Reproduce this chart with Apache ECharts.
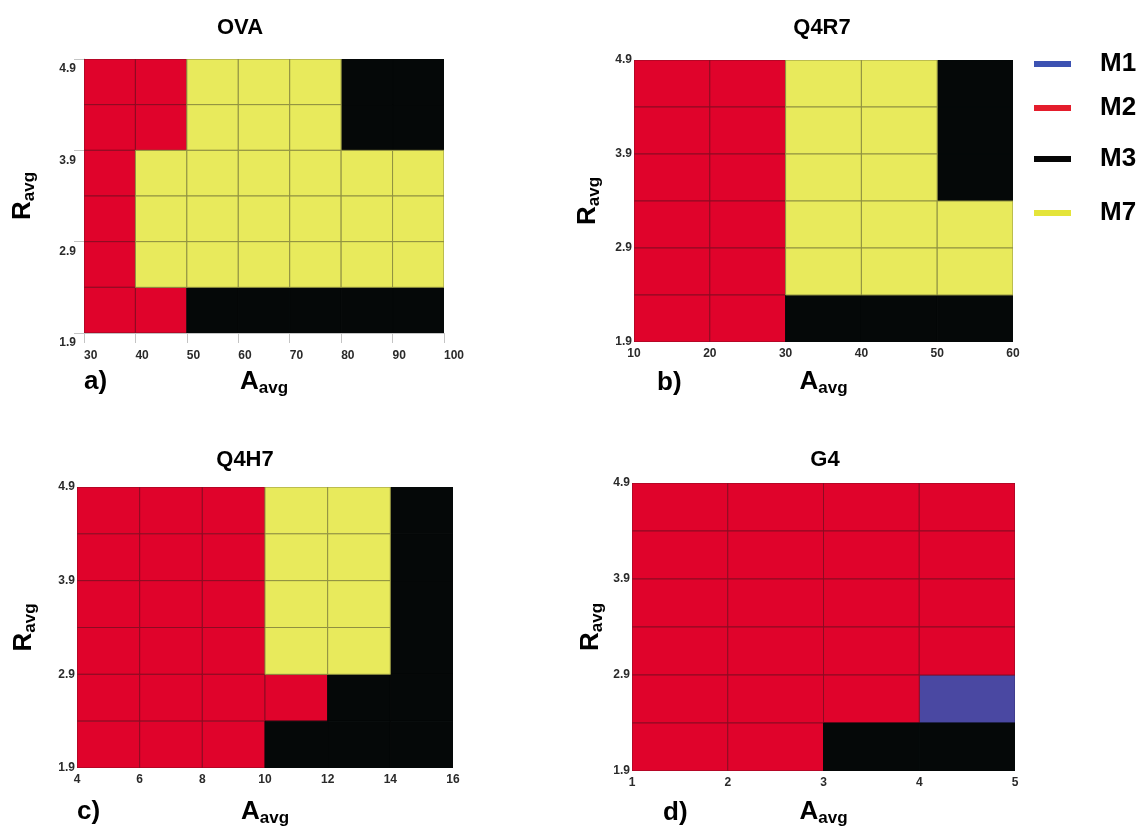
<!DOCTYPE html>
<html>
<head>
<meta charset="utf-8">
<script src="https://cdn.jsdelivr.net/npm/echarts@6/dist/echarts.min.js"></script>
<style>
  html, body { margin: 0; padding: 0; background: #fff; }
  #chart { width: 1143px; height: 838px; }
</style>
</head>
<body>
<div id="chart"></div>
<script>
// Winning model per (A_avg, R_avg) cell for four schemes.
const modelNames = ['M1', 'M2', 'M3', 'M7'];

// Row edges of R_avg, shared by every panel (bottom to top)
const rEdges = [1.9, 2.4, 2.9, 3.4, 3.9, 4.4, 4.9];
const rTicks = [1.9, 2.9, 3.9, 4.9];

// Column edges of A_avg for each panel
const ovaEdges = [30, 40, 50, 60, 70, 80, 90, 100];
const q4r7Edges = [10, 20, 30, 40, 50, 60];
const q4h7Edges = [4, 6, 8, 10, 12, 14, 16];
const g4Edges = [1, 2, 3, 4, 5];

// Cell maps, rows listed from top (R 4.4-4.9) down to bottom (R 1.9-2.4)
const ovaMap = [
  ['M2', 'M2', 'M7', 'M7', 'M7', 'M3', 'M3'],
  ['M2', 'M2', 'M7', 'M7', 'M7', 'M3', 'M3'],
  ['M2', 'M7', 'M7', 'M7', 'M7', 'M7', 'M7'],
  ['M2', 'M7', 'M7', 'M7', 'M7', 'M7', 'M7'],
  ['M2', 'M7', 'M7', 'M7', 'M7', 'M7', 'M7'],
  ['M2', 'M2', 'M3', 'M3', 'M3', 'M3', 'M3']
];
const q4r7Map = [
  ['M2', 'M2', 'M7', 'M7', 'M3'],
  ['M2', 'M2', 'M7', 'M7', 'M3'],
  ['M2', 'M2', 'M7', 'M7', 'M3'],
  ['M2', 'M2', 'M7', 'M7', 'M7'],
  ['M2', 'M2', 'M7', 'M7', 'M7'],
  ['M2', 'M2', 'M3', 'M3', 'M3']
];
const q4h7Map = [
  ['M2', 'M2', 'M2', 'M7', 'M7', 'M3'],
  ['M2', 'M2', 'M2', 'M7', 'M7', 'M3'],
  ['M2', 'M2', 'M2', 'M7', 'M7', 'M3'],
  ['M2', 'M2', 'M2', 'M7', 'M7', 'M3'],
  ['M2', 'M2', 'M2', 'M2', 'M3', 'M3'],
  ['M2', 'M2', 'M2', 'M3', 'M3', 'M3']
];
const g4Map = [
  ['M2', 'M2', 'M2', 'M2'],
  ['M2', 'M2', 'M2', 'M2'],
  ['M2', 'M2', 'M2', 'M2'],
  ['M2', 'M2', 'M2', 'M2'],
  ['M2', 'M2', 'M2', 'M1'],
  ['M2', 'M2', 'M3', 'M3']
];

const panelTitles = ['OVA', 'Q4R7', 'Q4H7', 'G4'];
const panelTags = ['a)', 'b)', 'c)', 'd)'];
const panelEdges = [ovaEdges, q4r7Edges, q4h7Edges, g4Edges];
const panelMaps = [ovaMap, q4r7Map, q4h7Map, g4Map];
const panelSteps = [10, 10, 2, 1];

// ---- styling and layout ----
const FONT = '"Liberation Sans", Arial, Helvetica, sans-serif';
const cellColors = { M1: '#4a48a2', M2: '#e0032b', M3: '#050808', M7: '#e8ea5c' };
// opaque cell outlines, a darker shade of each fill so seams never show white
const cellBorders = { M1: '#34327a', M2: '#8c0b22', M3: '#050808', M7: '#8f9040' };
const legendColors = { M1: '#3c52b2', M2: '#e41d2c', M3: '#060606', M7: '#e4e43a' };
const legendTops = [51, 95, 146, 200];

const layout = [
  { left: 84,  top: 59,  width: 360, height: 274, xName: 34, yName: 46, xLabelMargin: 17, yLabelMargin: 8,
    titleX: 240, titleY: 28, tagX: 84,  tagY: 382 },
  { left: 634, top: 60,  width: 379, height: 282, xName: 25, yName: 31, xLabelMargin: 6, yLabelMargin: 2,
    titleX: 822, titleY: 28, tagX: 657, tagY: 383 },
  { left: 77,  top: 487, width: 376, height: 281, xName: 29, yName: 38, xLabelMargin: 6, yLabelMargin: 2,
    titleX: 245, titleY: 460, tagX: 77,  tagY: 812 },
  { left: 632, top: 483, width: 383, height: 288, xName: 26, yName: 26, xLabelMargin: 6, yLabelMargin: 2,
    titleX: 825, titleY: 460, tagX: 663, tagY: 813 }
];

function nameRich() {
  return {
    a: { fontSize: 26, fontWeight: 'bold', fontFamily: FONT, color: '#000', lineHeight: 30 },
    s: { fontSize: 17, fontWeight: 'bold', fontFamily: FONT, color: '#000', lineHeight: 17, padding: [13, 0, 0, 0] }
  };
}

function makeCellRenderer(model) {
  return function (params, api) {
    const tl = api.coord([api.value(0), api.value(3)]);
    const br = api.coord([api.value(1), api.value(2)]);
    return {
      type: 'rect',
      shape: { x: tl[0], y: tl[1], width: br[0] - tl[0], height: br[1] - tl[1] },
      style: { fill: api.visual('color'), stroke: cellBorders[model], lineWidth: 1 }
    };
  };
}

const grids = [], xAxes = [], yAxes = [], series = [], graphics = [];

panelMaps.forEach((map, p) => {
  const L = layout[p];
  const xEdges = panelEdges[p];
  const nRows = rEdges.length - 1;
  grids.push({ left: L.left, top: L.top, width: L.width, height: L.height,
    containLabel: false, outerBoundsMode: 'none' });

  const isFirst = p === 0;
  xAxes.push({
    type: 'value', gridIndex: p,
    min: xEdges[0], max: xEdges[xEdges.length - 1], interval: panelSteps[p],
    axisLine: { show: isFirst, lineStyle: { color: '#c4c4c4', width: 1 } },
    axisTick: { show: isFirst, length: 10, lineStyle: { color: '#c4c4c4' } },
    splitLine: { show: false },
    axisLabel: {
      margin: L.xLabelMargin, fontSize: 12, fontWeight: 'bold', fontFamily: FONT, color: '#2a2a2a',
      align: isFirst ? 'left' : 'center', showMinLabel: true, showMaxLabel: true
    },
    name: '{a|A}{s|avg}', nameLocation: 'middle', nameGap: L.xName,
    nameTextStyle: { rich: nameRich() }
  });
  yAxes.push({
    type: 'value', gridIndex: p,
    min: rTicks[0], max: rTicks[rTicks.length - 1], interval: 1,
    axisLine: { show: isFirst, lineStyle: { color: '#c4c4c4', width: 1 } },
    axisTick: { show: isFirst, length: 10, lineStyle: { color: '#c4c4c4' } },
    splitLine: { show: false },
    axisLabel: {
      margin: L.yLabelMargin, fontSize: 12, fontWeight: 'bold', fontFamily: FONT, color: '#2a2a2a',
      formatter: v => v.toFixed(1), showMinLabel: true, showMaxLabel: true,
      verticalAlign: isFirst ? 'top' : 'middle',
      padding: isFirst ? [4, 0, 0, 0] : 0
    },
    name: '{a|R}{s|avg}', nameLocation: 'middle', nameGap: L.yName,
    nameTextStyle: { rich: nameRich() }
  });

  // one series per model in this panel, each cell = [x0, x1, y0, y1]
  modelNames.forEach(m => {
    const cells = [];
    map.forEach((row, ri) => {
      const y1 = rEdges[nRows - ri];
      const y0 = rEdges[nRows - ri - 1];
      row.forEach((code, ci) => {
        if (code === m) cells.push([xEdges[ci], xEdges[ci + 1], y0, y1]);
      });
    });
    if (!cells.length) return;
    series.push({
      name: m, type: 'custom', xAxisIndex: p, yAxisIndex: p,
      renderItem: makeCellRenderer(m), clip: true, silent: true,
      itemStyle: { color: cellColors[m] },
      encode: { x: [0, 1], y: [2, 3] },
      data: cells
    });
  });

  graphics.push({
    type: 'text', x: L.titleX, y: L.titleY, silent: true,
    style: { text: panelTitles[p], fontSize: 22, fontWeight: 'bold', fontFamily: FONT, fill: '#000',
      align: 'center', verticalAlign: 'middle', textAlign: 'center', textVerticalAlign: 'middle' }
  });
  graphics.push({
    type: 'text', x: L.tagX, y: L.tagY, silent: true,
    style: { text: panelTags[p], fontSize: 26, fontWeight: 'bold', fontFamily: FONT, fill: '#000',
      align: 'left', verticalAlign: 'middle', textAlign: 'left', textVerticalAlign: 'middle' }
  });
});

const legends = modelNames.map((m, i) => ({
  data: [{ name: m, itemStyle: { color: legendColors[m] } }],
  left: 1034, top: legendTops[i], orient: 'vertical', padding: 0,
  icon: 'rect', itemWidth: 37, itemHeight: 6, selectedMode: false,
  textStyle: { fontSize: 26, fontWeight: 'bold', fontFamily: FONT, color: '#000', padding: [0, 0, 0, 24] }
}));

const chart = echarts.init(document.getElementById('chart'), null, { renderer: 'canvas' });
chart.setOption({
  animation: false,
  backgroundColor: '#fff',
  grid: grids,
  xAxis: xAxes,
  yAxis: yAxes,
  legend: legends,
  series: series,
  graphic: graphics
});
</script>
</body>
</html>
